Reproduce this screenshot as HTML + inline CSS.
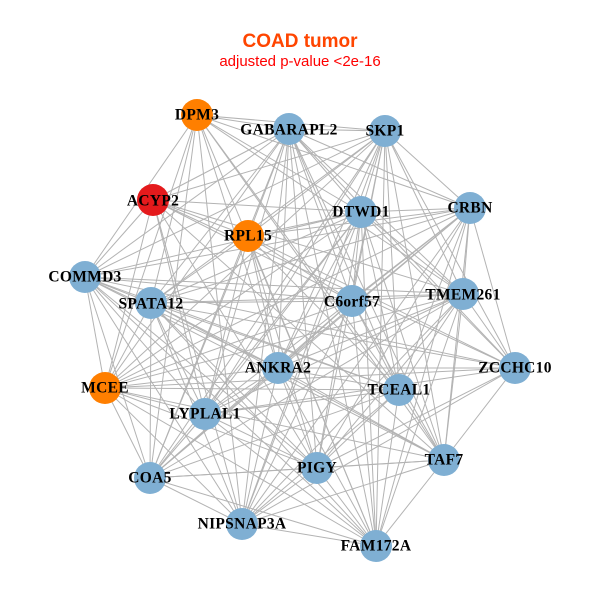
<!DOCTYPE html>
<html><head><meta charset="utf-8"><style>
html,body{margin:0;padding:0;background:#fff;}
svg{display:block;}
text.l{font-family:"Liberation Serif",serif;font-weight:bold;font-size:15.5px;fill:#000;text-anchor:middle;dominant-baseline:central;letter-spacing:0.3px;}
</style></head><body>
<svg id="s" width="600" height="600" viewBox="0 0 600 600">
<rect width="600" height="600" fill="#fff"/>
<text x="300" y="47" text-anchor="middle" font-family="Liberation Sans,sans-serif" font-weight="bold" font-size="19" fill="#FF4500">COAD tumor</text>
<text x="300" y="66" text-anchor="middle" font-family="Liberation Sans,sans-serif" font-size="15" fill="#FF0000">adjusted p-value &lt;2e-16</text>
<g id="e" stroke="#b3b3b3" stroke-width="1"></g>
<g id="n"></g>
<g>
<text class="l" x="197" y="115">DPM3</text>
<text class="l" x="289" y="130">GABARAPL2</text>
<text class="l" x="385" y="131">SKP1</text>
<text class="l" x="153" y="201">ACYP2</text>
<text class="l" x="361" y="212">DTWD1</text>
<text class="l" x="470" y="208">CRBN</text>
<text class="l" x="248" y="236">RPL15</text>
<text class="l" x="85" y="277">COMMD3</text>
<text class="l" x="151" y="304">SPATA12</text>
<text class="l" x="352" y="302">C6orf57</text>
<text class="l" x="463" y="295">TMEM261</text>
<text class="l" x="278" y="368">ANKRA2</text>
<text class="l" x="515" y="368">ZCCHC10</text>
<text class="l" x="105" y="388">MCEE</text>
<text class="l" x="399" y="390">TCEAL1</text>
<text class="l" x="205" y="414">LYPLAL1</text>
<text class="l" x="444" y="460">TAF7</text>
<text class="l" x="150" y="478">COA5</text>
<text class="l" x="317" y="468">PIGY</text>
<text class="l" x="242" y="524">NIPSNAP3A</text>
<text class="l" x="376" y="546">FAM172A</text>
</g>
</svg>
<script>
var N=[[197,115,'#FF7F00'],[289,129],[385,131],[153,200,'#E41A1C'],[361,212],[470,208],[248,236,'#FF7F00'],[85,277],[151,303],[352,301],[463,294],[278,368],[515,368],[105,388,'#FF7F00'],[399,390],[205,414],[444,460],[150,478],[317,468],[242,524],[376,546]];
var ns="http://www.w3.org/2000/svg",e=document.getElementById('e'),g=document.getElementById('n');
for(var i=0;i<N.length;i++)for(var j=i+1;j<N.length;j++){if((i*7+j*3)%9==0)continue;var l=document.createElementNS(ns,'line');l.setAttribute('x1',N[i][0]);l.setAttribute('y1',N[i][1]);l.setAttribute('x2',N[j][0]);l.setAttribute('y2',N[j][1]);e.appendChild(l);}
N.forEach(function(p){var c=document.createElementNS(ns,'circle');c.setAttribute('cx',p[0]);c.setAttribute('cy',p[1]);c.setAttribute('r',16);c.setAttribute('fill',p[2]||'#7FAFD3');g.appendChild(c);});
</script>
</body></html>
